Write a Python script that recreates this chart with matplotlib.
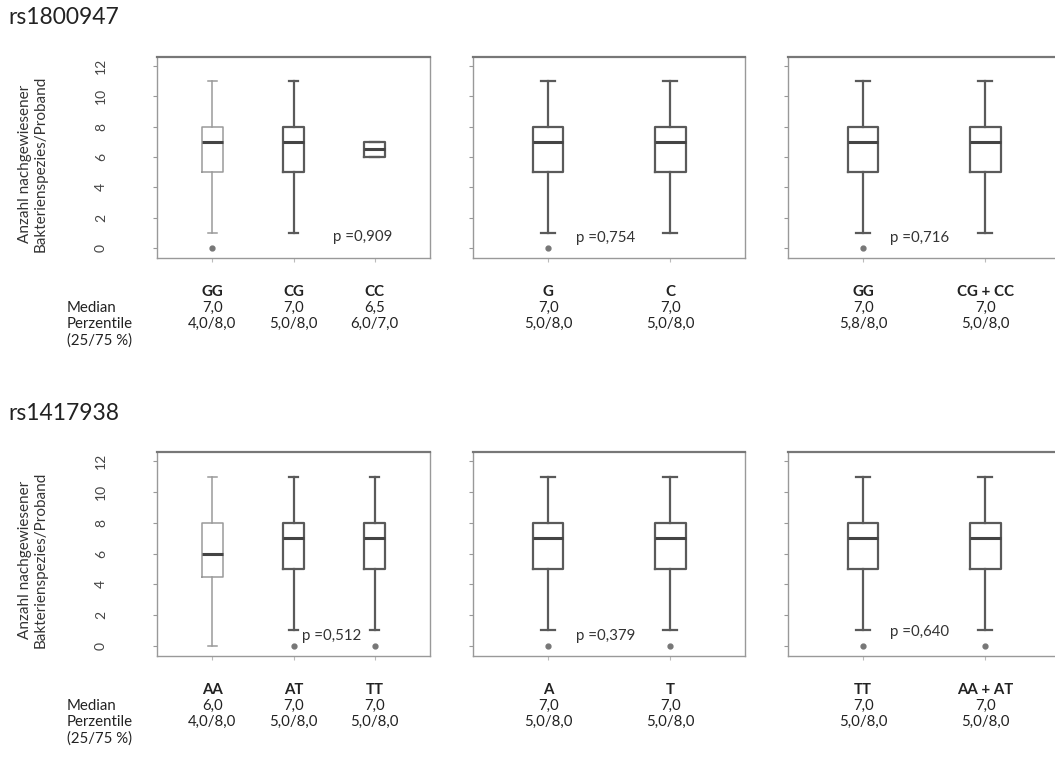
import matplotlib
matplotlib.use("Agg")
import matplotlib.pyplot as plt

plt.rcParams["font.family"] = ["Lato", "DejaVu Sans"]

W, H = 1055, 765

# rs1800947
top1_labels = ["GG", "CG", "CC"]
top1_q1 = [5, 5, 6]
top1_med = [7, 7, 6.5]
top1_q3 = [8, 8, 7]
top1_lo = [1, 1, 6]
top1_hi = [11, 11, 7]
top1_fliers = [[0], [], []]
top1_med_txt = ["7,0", "7,0", "6,5"]
top1_perc_txt = ["4,0/8,0", "5,0/8,0", "6,0/7,0"]
top1_p = "p =0,909"

top2_labels = ["G", "C"]
top2_q1 = [5, 5]
top2_med = [7, 7]
top2_q3 = [8, 8]
top2_lo = [1, 1]
top2_hi = [11, 11]
top2_fliers = [[0], []]
top2_med_txt = ["7,0", "7,0"]
top2_perc_txt = ["5,0/8,0", "5,0/8,0"]
top2_p = "p =0,754"

top3_labels = ["GG", "CG + CC"]
top3_q1 = [5, 5]
top3_med = [7, 7]
top3_q3 = [8, 8]
top3_lo = [1, 1]
top3_hi = [11, 11]
top3_fliers = [[0], []]
top3_med_txt = ["7,0", "7,0"]
top3_perc_txt = ["5,8/8,0", "5,0/8,0"]
top3_p = "p =0,716"

# rs1417938
bot1_labels = ["AA", "AT", "TT"]
bot1_q1 = [4.5, 5, 5]
bot1_med = [6, 7, 7]
bot1_q3 = [8, 8, 8]
bot1_lo = [0, 1, 1]
bot1_hi = [11, 11, 11]
bot1_fliers = [[], [0], [0]]
bot1_med_txt = ["6,0", "7,0", "7,0"]
bot1_perc_txt = ["4,0/8,0", "5,0/8,0", "5,0/8,0"]
bot1_p = "p =0,512"

bot2_labels = ["A", "T"]
bot2_q1 = [5, 5]
bot2_med = [7, 7]
bot2_q3 = [8, 8]
bot2_lo = [1, 1]
bot2_hi = [11, 11]
bot2_fliers = [[0], [0]]
bot2_med_txt = ["7,0", "7,0"]
bot2_perc_txt = ["5,0/8,0", "5,0/8,0"]
bot2_p = "p =0,379"

bot3_labels = ["TT", "AA + AT"]
bot3_q1 = [5, 5]
bot3_med = [7, 7]
bot3_q3 = [8, 8]
bot3_lo = [1, 1]
bot3_hi = [11, 11]
bot3_fliers = [[0], [0]]
bot3_med_txt = ["7,0", "7,0"]
bot3_perc_txt = ["5,0/8,0", "5,0/8,0"]
bot3_p = "p =0,640"

yticks = [0, 2, 4, 6, 8, 10, 12]
ylabel = "Anzahl nachgewiesener\nBakterienspezies/Proband"

TXT = 10.8


def px_axes(fig, left, top, width, height):
    return fig.add_axes([left / W, 1 - (top + height) / H, width / W, height / H])


def draw_panel(ax, labels, q1, med, q3, lo, hi, fliers, med_txt, perc_txt,
               p_txt, p_xy, show_ylabels=False, light_first=False):
    n = len(labels)
    stats = []
    for i in range(n):
        stats.append({"med": med[i], "q1": q1[i], "q3": q3[i],
                      "whislo": lo[i], "whishi": hi[i], "fliers": fliers[i]})
    pos = list(range(1, n + 1))
    if n == 3:
        width, cap = 0.26, 0.11
        ax.set_xlim(0.32, 3.68)
    else:
        width, cap = 0.25, 0.115
        ax.set_xlim(0.385, 2.61)
    for i in range(n):
        c = "#9a9a9a" if (light_first and i == 0) else "#5a5a5a"
        lw = 1.1 if (light_first and i == 0) else 1.6
        ax.bxp([stats[i]], positions=[pos[i]], widths=width, capwidths=cap,
               boxprops=dict(color=c, linewidth=lw),
               whiskerprops=dict(color=c, linewidth=lw),
               capprops=dict(color=c, linewidth=lw),
               medianprops=dict(color="#444444", linewidth=2.2),
               flierprops=dict(marker="o", markersize=3.5,
                               markerfacecolor="#777777",
                               markeredgecolor="#777777"),
               manage_ticks=False)
    ax.set_ylim(-0.66, 12.6)
    ax.set_yticks(yticks)
    ax.set_xticks(pos)
    ax.set_xticklabels([])
    ax.tick_params(axis="x", length=3, color="#bbbbbb")
    if show_ylabels:
        ax.set_yticklabels([str(v) for v in yticks], rotation=90,
                           va="center", fontsize=10, color="#444444")
        ax.tick_params(axis="y", length=3, color="#999999", pad=33)
    else:
        ax.set_yticklabels([])
        ax.tick_params(axis="y", length=3, color="#999999")
    for s in ax.spines.values():
        s.set_color("#999999")
        s.set_linewidth(1.0)
    ax.spines["top"].set_color("#777777")
    ax.spines["top"].set_linewidth(1.6)
    ax.text(p_xy[0], p_xy[1], p_txt, fontsize=TXT, color="#333333",
            ha="left", va="center")
    for i in range(n):
        for txt, off, bold in [(labels[i], -34, True),
                               (med_txt[i], -50, False),
                               (perc_txt[i], -66, False)]:
            ax.annotate(txt, xy=(pos[i], 0), xycoords=("data", "axes fraction"),
                        xytext=(0, off * 0.72), textcoords="offset points",
                        ha="center", va="center", fontsize=TXT,
                        fontweight="bold" if bold else "normal",
                        color="#222222", annotation_clip=False)


fig = plt.figure(figsize=(W / 100, H / 100), dpi=100)

rows = [
    (57, 201, "rs1800947", [
        (top1_labels, top1_q1, top1_med, top1_q3, top1_lo, top1_hi, top1_fliers,
         top1_med_txt, top1_perc_txt, top1_p, (2.49, 0.75)),
        (top2_labels, top2_q1, top2_med, top2_q3, top2_lo, top2_hi, top2_fliers,
         top2_med_txt, top2_perc_txt, top2_p, (1.23, 0.66)),
        (top3_labels, top3_q1, top3_med, top3_q3, top3_lo, top3_hi, top3_fliers,
         top3_med_txt, top3_perc_txt, top3_p, (1.22, 0.66)),
    ]),
    (452, 204, "rs1417938", [
        (bot1_labels, bot1_q1, bot1_med, bot1_q3, bot1_lo, bot1_hi, bot1_fliers,
         bot1_med_txt, bot1_perc_txt, bot1_p, (2.11, 0.66)),
        (bot2_labels, bot2_q1, bot2_med, bot2_q3, bot2_lo, bot2_hi, bot2_fliers,
         bot2_med_txt, bot2_perc_txt, bot2_p, (1.23, 0.64)),
        (bot3_labels, bot3_q1, bot3_med, bot3_q3, bot3_lo, bot3_hi, bot3_fliers,
         bot3_med_txt, bot3_perc_txt, bot3_p, (1.22, 0.9)),
    ]),
]

lefts = [157, 473, 788]
widths = [273, 272, 272]

for top, height, title, panels in rows:
    fig.text(8 / W, 1 - (top - 39) / H, title, fontsize=16.5, color="#222222",
             ha="left", va="center")
    for j, p in enumerate(panels):
        ax = px_axes(fig, lefts[j], top, widths[j], height)
        draw_panel(ax, *p, show_ylabels=(j == 0), light_first=(j == 0))
        if j == 0:
            fig.text(33 / W, 1 - (top + height / 2 + 6) / H, ylabel, rotation=90,
                     ha="center", va="center", fontsize=11, color="#333333",
                     multialignment="center", linespacing=1.15)
    base = top + height
    for txt, off in [("Median", 50), ("Perzentile", 66), ("(25/75 %)", 83)]:
        fig.text(67 / W, 1 - (base + off) / H, txt, fontsize=TXT,
                 color="#222222", ha="left", va="center")

fig.savefig("out.png", dpi=100)
